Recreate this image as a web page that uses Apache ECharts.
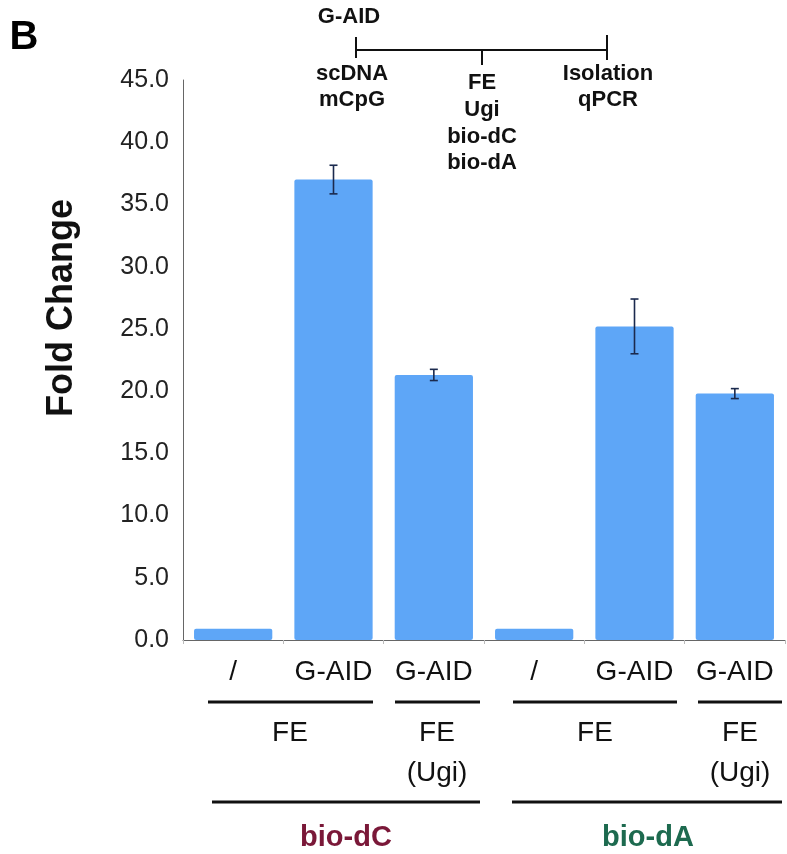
<!DOCTYPE html>
<html>
<head>
<meta charset="utf-8">
<script src="https://cdn.jsdelivr.net/npm/echarts@6/dist/echarts.min.js"></script>
<style>
html,body{margin:0;padding:0;background:#fff;}
#chart{width:787px;height:854px;}
</style>
</head>
<body>
<div id="chart"></div>
<script>
// ---- data ----
var categories = ['/', 'G-AID', 'G-AID', '/', 'G-AID', 'G-AID'];
var foldChange = [0.9, 37.0, 21.3, 0.9, 25.2, 19.8];
var errorSize  = [0, 1.15, 0.45, 0, 2.2, 0.4];
var yTicks = [0, 5, 10, 15, 20, 25, 30, 35, 40, 45];

var errorData = foldChange.map(function (v, i) {
  return [i, v - errorSize[i], v + errorSize[i]];
});

var font = '"Liberation Sans", Arial, Helvetica, sans-serif';
var chart = echarts.init(document.getElementById('chart'));

function t(text, x, y, size, color, bold) {
  return {
    type: 'text', x: x, y: y,
    style: {
      text: text, fill: color || '#111', font: (bold ? 'bold ' : '') + size + 'px ' + font,
      textAlign: 'center', textVerticalAlign: 'middle'
    }
  };
}
function ln(x1, y1, x2, y2, w) {
  return { type: 'line', shape: { x1: x1, y1: y1, x2: x2, y2: y2 },
           style: { stroke: '#111', lineWidth: w || 2 } };
}

var yTitle = t('Fold Change', 62, 308, 36, '#111', true);
yTitle.rotation = Math.PI / 2;

var graphics = [
  t('B', 24, 38, 40, '#000', true),
  yTitle,
  // protocol diagram
  t('G-AID', 349, 17, 22, '#111', true),
  ln(356, 50, 607, 50, 2),
  ln(356, 37, 356, 58, 2),
  ln(482, 50, 482, 65, 2),
  ln(607, 35, 607, 60, 2),
  t('scDNA', 352, 74, 22, '#111', true),
  t('mCpG', 352, 100, 22, '#111', true),
  t('FE', 482, 83, 22, '#111', true),
  t('Ugi', 482, 110, 22, '#111', true),
  t('bio-dC', 482, 137, 22, '#111', true),
  t('bio-dA', 482, 163, 22, '#111', true),
  t('Isolation', 608, 74, 22, '#111', true),
  t('qPCR', 608, 100, 22, '#111', true),
  // group annotations
  ln(208, 702, 373, 702, 3),
  ln(395, 702, 480, 702, 3),
  ln(513, 702, 677, 702, 3),
  ln(698, 702, 782, 702, 3),
  t('FE', 290, 733, 28),
  t('FE', 437, 733, 28),
  t('(Ugi)', 437, 773, 28),
  t('FE', 595, 733, 28),
  t('FE', 740, 733, 28),
  t('(Ugi)', 740, 773, 28),
  ln(212, 802, 480, 802, 3),
  ln(512, 802, 782, 802, 3),
  t('bio-dC', 346, 838, 29, '#7a1838', true),
  t('bio-dA', 648, 838, 29, '#1d6a4f', true)
];

chart.setOption({
  animation: false,
  backgroundColor: '#fff',
  grid: { left: 183, right: 2, top: 80, bottom: 214, containLabel: false },
  xAxis: {
    type: 'category',
    data: categories,
    axisLine: { lineStyle: { color: '#666', width: 1 } },
    axisTick: { show: true, length: 4, lineStyle: { color: '#bbb' } },
    axisLabel: { color: '#111', fontSize: 28, fontFamily: font, margin: 18, interval: 0 }
  },
  yAxis: {
    type: 'value',
    min: yTicks[0], max: yTicks[yTicks.length - 1], interval: 5,
    axisLine: { show: true, lineStyle: { color: '#666', width: 1 } },
    axisTick: { show: false },
    splitLine: { show: false },
    axisLabel: {
      color: '#222', fontSize: 25, fontFamily: font, margin: 14,
      formatter: function (v) { return v.toFixed(1); }
    }
  },
  series: [
    {
      type: 'bar',
      data: foldChange,
      barWidth: '78%',
      itemStyle: { color: '#5ea6f7', borderRadius: 2 }
    },
    {
      type: 'custom',
      data: errorData,
      z: 10,
      renderItem: function (params, api) {
        var lo = api.coord([api.value(0), api.value(1)]);
        var hi = api.coord([api.value(0), api.value(2)]);
        if (Math.abs(hi[1] - lo[1]) < 0.5) return null;
        var c = 4;
        var s = { stroke: '#1b2a4e', lineWidth: 1.6 };
        return {
          type: 'group',
          children: [
            { type: 'line', shape: { x1: hi[0], y1: hi[1], x2: lo[0], y2: lo[1] }, style: s },
            { type: 'line', shape: { x1: hi[0] - c, y1: hi[1], x2: hi[0] + c, y2: hi[1] }, style: s },
            { type: 'line', shape: { x1: lo[0] - c, y1: lo[1], x2: lo[0] + c, y2: lo[1] }, style: s }
          ]
        };
      }
    }
  ],
  graphic: graphics
});
</script>
</body>
</html>
